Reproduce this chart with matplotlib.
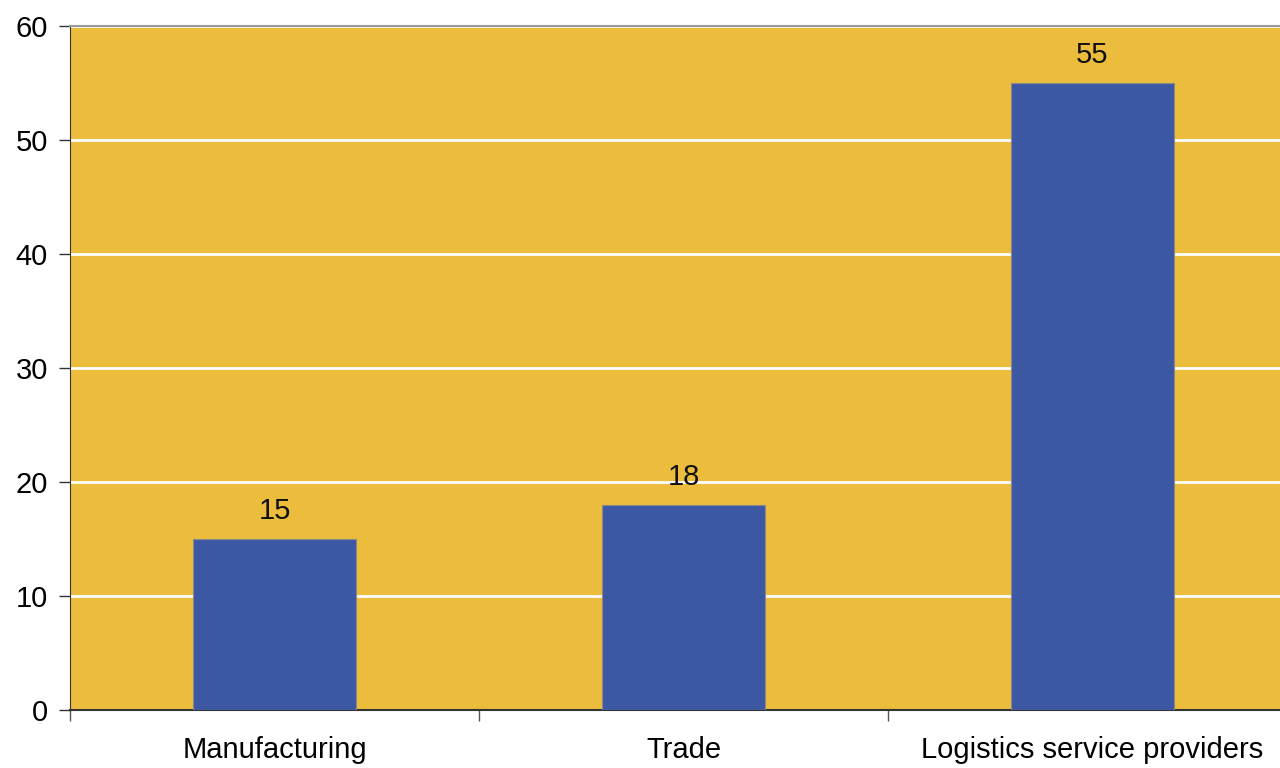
import matplotlib.pyplot as plt
import numpy as np

plt.rcParams['font.family'] = ['Liberation Sans', 'DejaVu Sans']

# Data
categories = ['Manufacturing', 'Trade', 'Logistics service providers']
values = [15, 18, 55]
y_ticks = [0, 10, 20, 30, 40, 50, 60]

fig = plt.figure(figsize=(12.8, 7.68), dpi=100)
# right edge runs past the figure, like the original
ax = fig.add_axes([70 / 1280, 1 - 710 / 768, 1227 / 1280, 684 / 768])
ax.set_facecolor('#ECBD3C')

x = np.arange(len(categories))
ax.bar(x, values, width=0.40, color='#3D58A3', edgecolor='#8A8A8A', linewidth=0.8, zorder=3)

for xi, v in zip(x, values):
    ax.text(xi, v + 1.2, str(v), ha='center', va='bottom', fontsize=21, color='#111111')

ax.set_xlim(-0.5, len(categories) - 0.5)
ax.set_ylim(0, 60)
ax.set_yticks(y_ticks)
ax.yaxis.grid(True, color='white', linewidth=2, zorder=1)
ax.set_axisbelow(True)

# category boundary ticks on x axis
ax.set_xticks(np.arange(len(categories) + 1) - 0.5)
ax.set_xticklabels([])
ax.set_xticks(x, minor=True)
ax.set_xticklabels(categories, minor=True, fontsize=21)
ax.tick_params(axis='x', which='minor', length=0, pad=19)
ax.tick_params(axis='x', which='major', length=8, width=1, color='#555555', direction='out')
ax.tick_params(axis='y', length=8, width=1, color='#333333', labelsize=21, pad=8)

ax.spines['top'].set_color('#999999')
ax.spines['top'].set_linewidth(1.5)
ax.spines['right'].set_visible(False)
ax.spines['left'].set_color('#333333')
ax.spines['bottom'].set_color('#333333')
ax.spines['bottom'].set_linewidth(1.5)

fig.savefig('out.png', dpi=100)
